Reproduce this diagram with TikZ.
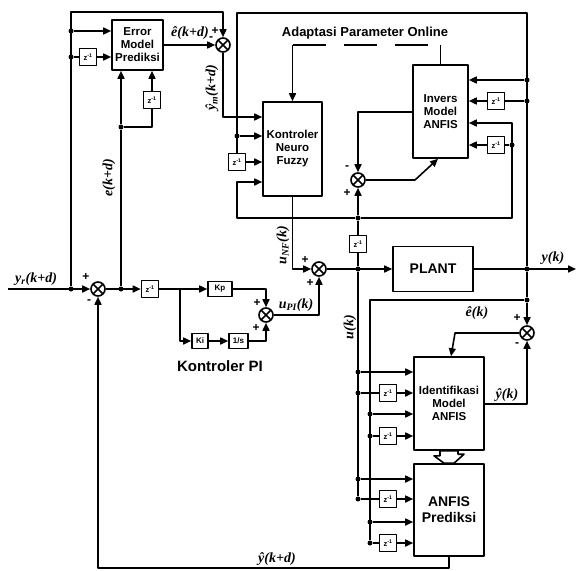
\documentclass[tikz,border=0pt]{standalone}
\usepackage{fontspec}
\setmainfont{Liberation Sans}
\newfontfamily\sigfont{Liberation Serif}
\usetikzlibrary{arrows.meta}
\tikzset{
  every picture/.style = {line join=round},
  wire/.style  = {line width=1.6pt},
  sig/.style   = {wire, -{Triangle[length=8pt,width=7pt]}},
  blk/.style   = {draw, wire, fill=white, inner sep=0pt, align=center,
                  font=\bfseries\fontsize{11.5}{13}\selectfont},
  bigblk/.style = {blk, font=\bfseries\fontsize{14}{16}\selectfont},
  dly/.style   = {blk, minimum width=17pt, minimum height=17pt,
                  font=\bfseries\fontsize{7.5}{8}\selectfont},
  gain/.style  = {blk, minimum height=15pt, font=\bfseries\fontsize{8}{9}\selectfont},
  summ/.style  = {draw, wire, circle, fill=white, minimum size=14pt, inner sep=0pt,
                  path picture={\draw[wire]
                    (path picture bounding box.north west) -- (path picture bounding box.south east)
                    (path picture bounding box.south west) -- (path picture bounding box.north east);}},
  dot/.style   = {circle, fill, inner sep=0pt, minimum size=5pt},
  lbl/.style   = {font=\sigfont\bfseries\itshape\fontsize{14}{15}\selectfont, inner sep=0pt},
  sgn/.style   = {font=\bfseries\fontsize{12}{12}\selectfont, inner sep=0pt},
  title/.style = {font=\bfseries\fontsize{13}{15}\selectfont, inner sep=0pt},
}
\newcommand{\zinv}{z\textsuperscript{-1}}

\begin{document}
\begin{tikzpicture}[x=1pt, y=-1pt]
  \useasboundingbox (0,0) rectangle (577,570);

  % --- blocks -------------------------------------------------------------
  \node[blk, minimum width=51pt, minimum height=50pt] (errm) at (137.5,45) {Error\\Model\\Prediksi};
  \node[blk, minimum width=59pt, minimum height=94pt] (nf) at (292.5,149) {Kontroler\\Neuro\\Fuzzy};
  \node[blk, minimum width=55pt, minimum height=93pt] (inv) at (440.5,111.5) {Invers\\Model\\ANFIS};
  \node[bigblk, minimum width=80pt, minimum height=45pt] (plant) at (433,269) {PLANT};
  \node[blk, minimum width=70pt, minimum height=93pt] (ident) at (449,403.5) {Identifikasi\\Model\\ANFIS};
  \node[bigblk, minimum width=70pt, minimum height=92pt] (pred) at (449,510) {ANFIS\\Prediksi};

  % unit delays
  \node[dly] (zA) at (88,57)   {\zinv};
  \node[dly] (zB) at (152,100) {\zinv};
  \node[dly] (zC) at (150,289) {\zinv};
  \node[dly] (zD) at (237,162) {\zinv};
  \node[dly] (zE) at (496,101) {\zinv};
  \node[dly] (zF) at (496,145) {\zinv};
  \node[dly] (zG) at (358,244) {\zinv};
  \node[dly] (zH) at (388,393) {\zinv};
  \node[dly] (zI) at (388,436) {\zinv};
  \node[dly] (zJ) at (388,499) {\zinv};
  \node[dly] (zK) at (388,543) {\zinv};

  % PI part
  \node[gain, minimum width=24pt] (kp)    at (220,289)   {Kp};
  \node[gain, minimum width=16pt] (ki)    at (200,341)   {Ki};
  \node[gain, minimum width=19pt] (integ) at (238.5,341) {1/s};

  % summing junctions
  \node[summ] (s1) at (98,289)  {};
  \node[summ] (s2) at (223,45)  {};
  \node[summ] (s3) at (358,180) {};
  \node[summ] (s4) at (266,315) {};
  \node[summ] (s5) at (319,269) {};
  \node[summ] (s6) at (527,333) {};

  % --- reference input and error -----------------------------------------
  \coordinate (yrin) at (8,289);
  \node[dot] (ja)  at (71,289)  {};
  \node[dot] (je2) at (121,289) {};
  \node[dot] (je1) at (121,127) {};
  \draw[sig] (yrin) -- (s1);
  \draw[sig] (s1) -- (zC);
  \draw[wire] (je2) -- (je1);

  % error model prediction
  \coordinate (tl) at (71,12);
  \node[dot] (jb1) at (71,31) {};
  \node[dot] (jb2) at (71,57) {};
  \draw[sig] (ja) -- (tl) -| (s2);
  \draw[sig] (jb1) -- (errm.west |- jb1);
  \draw[wire] (jb2) -- (zA);
  \draw[sig] (zA) -- (errm.west |- zA);
  \draw[sig] (je1) -- (je1 |- errm.south);
  \draw[wire] (je1) -| (zB);
  \draw[sig] (zB) -- (zB |- errm.south);
  \draw[sig] (errm) -- (s2);
  \draw[sig] (s2) |- (nf.west |- 0,117);

  % y(k) fed back over the top
  \node[dot] (jy) at (527,269) {};
  \coordinate (ytr) at (527,13);
  \coordinate (ytl) at (237,13);
  \node[dot] (jn1) at (237,136) {};
  \node[dot] (jx1) at (527,80)  {};
  \node[dot] (jx2) at (527,101) {};
  \draw[wire] (jy) -- (ytr) -- (ytl) -- (zD);
  \draw[sig] (jn1) -- (nf.west |- jn1);
  \draw[sig] (zD) -- (nf.west |- zD);
  \draw[sig] (jx1) -- (inv.east |- jx1);
  \draw[wire] (jx2) -- (zE);
  \draw[sig] (zE) -- (inv.east |- zE);

  % u(k-1) branch
  \node[dot] (ju) at (358,269) {};
  \node[dot] (jv) at (358,218) {};
  \node[dot] (jw) at (512,145) {};
  \coordinate (uc1) at (237,218);
  \coordinate (uc2) at (512,218);
  \draw[wire] (ju) -- (zG);
  \draw[wire] (zG) -- (jv);
  \draw[sig] (jv) -- (s3);
  \draw[sig] (jv) -- (uc1) |- (nf.west |- 0,182);
  \draw[sig] (jv) -- (uc2) |- (inv.east |- 0,123);
  \draw[wire] (jw) -- (zF);
  \draw[sig] (zF) -- (inv.east |- zF);

  % online adaptation
  \coordinate (ab) at (415,180);
  \draw[sig] (inv.west |- 0,112) -| (s3);
  \draw[sig] (s3) -- (ab) -- ([xshift=-2.5pt]inv.south);
  \node[title] (adp) at (365,33) {Adaptasi Parameter Online};
  \coordinate (dl) at (292.5,45);
  \draw[sig] (dl) -- (nf.north);
  \draw[wire, dash pattern=on 33pt off 18pt] (dl) -- (inv.north |- dl);
  \draw[wire] (inv.north |- dl) -- (inv.north);

  % PI controller
  \coordinate (jpi) at (180,289);
  \draw[sig] (zC) -- (kp);
  \draw[sig] (kp) -| (s4);
  \draw[sig] (jpi) |- (ki);
  \draw[sig] (ki) -- (integ);
  \draw[sig] (integ) -| (s4);
  \node[title, font=\bfseries\fontsize{15}{17}\selectfont] (pil) at (220,366) {Kontroler PI};

  % control signal and plant
  \coordinate (yout) at (576,269);
  \draw[sig] (nf.south) |- (s5);
  \draw[sig] (s4) -| (s5);
  \draw[sig] (s5) -- (plant);
  \draw[sig] (plant) -- (yout);

  % identification model
  \node[dot] (jz) at (527,300) {};
  \coordinate (yc) at (370,300);
  \coordinate (ec) at (455,333);
  \draw[wire] (jy) -- (jz);
  \draw[sig] (jz) -- (s6);
  \draw[sig] (s6) -- (ec) -- ([xshift=2pt]ident.north);
  \draw[sig] (ident.east |- 0,404) -| (s6);

  \node[dot] (ji1) at (358,372) {};
  \node[dot] (ji2) at (358,393) {};
  \node[dot] (ji3) at (370,414) {};
  \node[dot] (ji4) at (370,436) {};
  \node[dot] (jp1) at (358,479) {};
  \node[dot] (jp2) at (358,499) {};
  \node[dot] (jp3) at (370,522) {};
  \node[dot] (jp4) at (370,543) {};
  \draw[wire] (ju) -- (jp2);
  \draw[wire] (jz) -- (yc) -- (jp4);
  \foreach \j in {ji1,ji3,jp1,jp3}
    \draw[sig] (\j) -- (ident.west |- \j);
  \foreach \j/\z in {ji2/zH,ji4/zI,jp2/zJ,jp4/zK} {
    \draw[wire] (\j) -- (\z);
    \draw[sig] (\z) -- (ident.west |- \z);
  }

  % model handed over to the predictor
  \draw[wire, fill=white] ([xshift=-9pt]ident.south) -- ++(0,5) -- ++(-6,0)
    -- ([xshift=-5pt]pred.north) -- ([xshift=5pt]pred.north) -- ++(10,-9)
    -- ++(-6,0) -- ([xshift=9pt]ident.south) -- cycle;

  % predicted output back to the error summer
  \coordinate (fb1) at (449,568);
  \coordinate (fb2) at (98,568);
  \draw[sig] (pred.south) -- (fb1) -- (fb2) -- (s1);

  % --- signal names ---------------------------------------------------------
  \node[lbl] (lyr)  at (36,279)  {y\textsubscript{r}(k+d)};
  \node[lbl] (leh)  at (190,33)  {ê(k+d)};
  \node[lbl, rotate=90] (lym) at (212,88) {ŷ\textsubscript{m}(k+d)};
  \node[lbl, rotate=90] (lek) at (109,178) {e(k+d)};
  \node[lbl, rotate=90] (lunf) at (283,245) {u\textsubscript{NF}(k)};
  \node[lbl] (lupi) at (296,305) {u\textsubscript{PI}(k)};
  \node[lbl] (lyk)  at (553,258) {y(k)};
  \node[lbl] (lek2) at (477,313) {ê(k)};
  \node[lbl] (lyh)  at (507,395) {ŷ(k)};
  \node[lbl, rotate=90] (luk) at (350,327) {u(k)};
  \node[lbl] (lyhd) at (277,559) {ŷ(k+d)};

  % --- signs ----------------------------------------------------------------
  \node[sgn] (p1) at (86,277)  {+};
  \node[sgn] (m1) at (89,302)  {-};
  \node[sgn] (p2) at (215,31)  {+};
  \node[sgn] (m2) at (211,39)  {-};
  \node[sgn] (m3) at (347,168) {-};
  \node[sgn] (p3) at (347,193) {+};
  \node[sgn] (p4) at (257,303) {+};
  \node[sgn] (p5) at (256,328) {+};
  \node[sgn] (p6) at (305,260) {+};
  \node[sgn] (p7) at (310,283) {+};
  \node[sgn] (p8) at (517,318) {+};
  \node[sgn] (m4) at (517,345) {-};
\end{tikzpicture}
\end{document}
